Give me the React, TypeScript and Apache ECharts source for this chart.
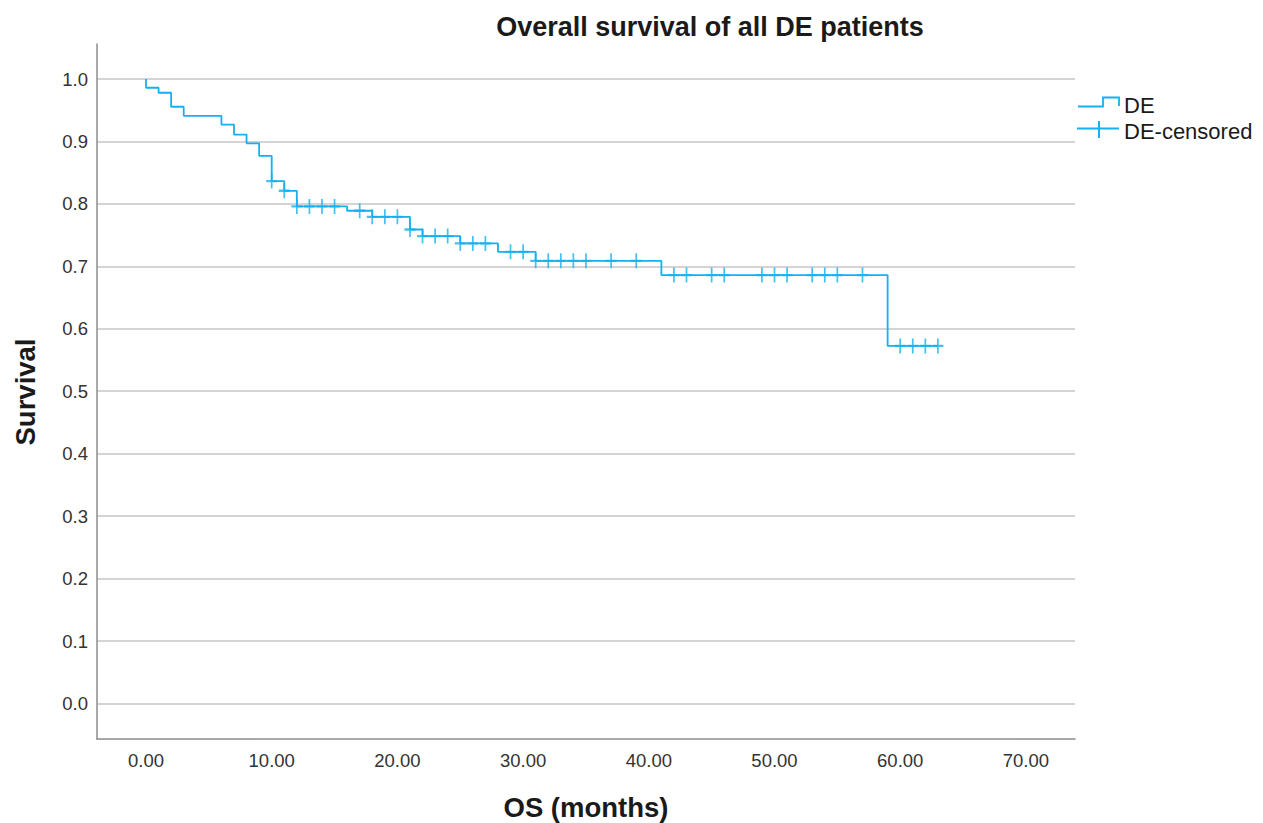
import React, { useEffect, useRef } from "react";
import * as echarts from "echarts";

// ---- data ----
const eventTimes = [0, 1, 2, 3, 6, 7, 8, 9, 10, 11, 12, 16, 18, 21, 22, 25, 28, 31, 41, 59];
const survivalAfter = [
  0.986, 0.978, 0.9556, 0.941, 0.927, 0.911, 0.897, 0.877, 0.8365, 0.821,
  0.796, 0.789, 0.7793, 0.759, 0.7484, 0.7367, 0.7232, 0.7088, 0.686, 0.5726,
];
const lastFollowUp = 63;
const censorTimes = [
  10, 11, 12, 13, 14, 15, 17, 18, 19, 20, 21, 22, 23, 24, 25, 26, 27, 29, 30,
  31, 32, 33, 34, 35, 37, 39, 42, 43, 45, 46, 49, 50, 51, 53, 54, 55, 57, 60,
  61, 62, 63,
];
const xTicks = [0, 10, 20, 30, 40, 50, 60, 70];
const yTicks = [0, 0.1, 0.2, 0.3, 0.4, 0.5, 0.6, 0.7, 0.8, 0.9, 1.0];

const TITLE = "Overall survival of all DE patients";
const X_NAME = "OS (months)";
const Y_NAME = "Survival";
const SERIES_NAME = "DE";
const CENSOR_NAME = "DE-censored";

const COLOR = "#15b0f0";
const FONT = "'Liberation Sans', Arial, Helvetica, sans-serif";

function survivalAt(t: number): number {
  let s = 1;
  for (let i = 0; i < eventTimes.length; i++) {
    if (eventTimes[i] <= t) s = survivalAfter[i];
  }
  return s;
}

export default function App() {
  const ref = useRef<HTMLDivElement>(null);

  useEffect(() => {
    if (!ref.current) return;
    const chart = echarts.init(ref.current, undefined, { renderer: "svg" });

    const kmData: number[][] = [[0, 1.0]];
    eventTimes.forEach((t, i) => kmData.push([t, survivalAfter[i]]));
    kmData.push([lastFollowUp, survivalAfter[survivalAfter.length - 1]]);

    const censorData = censorTimes.map((t) => [t, survivalAt(t)]);

    const gridLeft = 97;
    const gridRight = 1075;
    const gridTop = 44;
    const gridBottom = 739;
    // x: 0 at px 146, 12.57 px per month
    const xMin = -(146 - gridLeft) / 12.57;
    const xMax = (gridRight - 146) / 12.57;
    // y: 1.0 at px 79, 0.0 at px 703.5
    const pxPerUnit = 703.5 - 79;
    const yMax = 1 + (79 - gridTop) / pxPerUnit;
    const yMin = -(gridBottom - 703.5) / pxPerUnit;

    chart.setOption({
      animation: false,
      backgroundColor: "#ffffff",
      grid: {
        left: gridLeft,
        right: 1263 - gridRight,
        top: gridTop,
        bottom: 823 - gridBottom,
        containLabel: false,
      },
      xAxis: {
        type: "value",
        min: xMin,
        max: xMax,
        axisLine: { show: true, onZero: false, lineStyle: { color: "#8c8c8c", width: 1.5 } },
        axisTick: { show: false, customValues: xTicks },
        axisLabel: {
          customValues: xTicks,
          formatter: (v: number) => v.toFixed(2),
          fontFamily: FONT,
          fontSize: 18.5,
          color: "#333333",
          margin: 12,
        },
        splitLine: { show: false },
      },
      yAxis: {
        type: "value",
        min: yMin,
        max: yMax,
        axisLine: { show: true, onZero: false, lineStyle: { color: "#8c8c8c", width: 1.5 } },
        axisTick: { show: false, customValues: yTicks },
        axisLabel: {
          customValues: yTicks,
          formatter: (v: number) => v.toFixed(1),
          fontFamily: FONT,
          fontSize: 18.5,
          color: "#333333",
          margin: 9,
        },
        splitLine: { show: true, lineStyle: { color: "#c6c6c6", width: 1.5 } },
      },
      series: [
        {
          name: SERIES_NAME,
          type: "line",
          step: "end",
          data: kmData,
          showSymbol: false,
          symbol: "none",
          lineStyle: { color: COLOR, width: 1.8 },
          z: 3,
        },
        {
          name: CENSOR_NAME,
          type: "scatter",
          data: censorData,
          symbol: "path://M5,0L5,14M0,7L10,7",
          symbolSize: [11, 15],
          itemStyle: { color: "none", borderColor: COLOR, borderWidth: 2 },
          z: 4,
        },
      ],
      graphic: [
        {
          type: "text",
          x: 710,
          y: 27,
          style: {
            text: TITLE,
            font: `bold 27px ${FONT}`,
            fill: "#1a1a1a",
            align: "center",
            verticalAlign: "middle",
          },
        },
        {
          type: "text",
          x: 586,
          y: 807,
          style: {
            text: X_NAME,
            font: `bold 27.5px ${FONT}`,
            fill: "#1a1a1a",
            align: "center",
            verticalAlign: "middle",
          },
        },
        {
          type: "text",
          x: 25,
          y: 392,
          rotation: Math.PI / 2,
          style: {
            text: Y_NAME,
            font: `bold 27.5px ${FONT}`,
            fill: "#1a1a1a",
            align: "center",
            verticalAlign: "middle",
          },
        },
        {
          type: "polyline",
          shape: {
            points: [
              [1078, 106.5],
              [1103, 106.5],
              [1103, 97.5],
              [1119, 97.5],
              [1119, 106],
            ],
          },
          style: { stroke: COLOR, lineWidth: 1.8, fill: "none" },
        },
        {
          type: "text",
          x: 1124,
          y: 105.5,
          style: {
            text: SERIES_NAME,
            font: `22px ${FONT}`,
            fill: "#1a1a1a",
            align: "left",
            verticalAlign: "middle",
          },
        },
        {
          type: "line",
          shape: { x1: 1077, y1: 128.5, x2: 1119, y2: 128.5 },
          style: { stroke: COLOR, lineWidth: 1.8 },
        },
        {
          type: "line",
          shape: { x1: 1099, y1: 121, x2: 1099, y2: 138 },
          style: { stroke: COLOR, lineWidth: 2 },
        },
        {
          type: "text",
          x: 1124,
          y: 131,
          style: {
            text: CENSOR_NAME,
            font: `22px ${FONT}`,
            fill: "#1a1a1a",
            align: "left",
            verticalAlign: "middle",
          },
        },
      ],
    });

    return () => chart.dispose();
  }, []);

  return (
    <div
      ref={ref}
      style={{ width: 1263, height: 823, position: "absolute", left: 0, top: 0 }}
    />
  );
}
